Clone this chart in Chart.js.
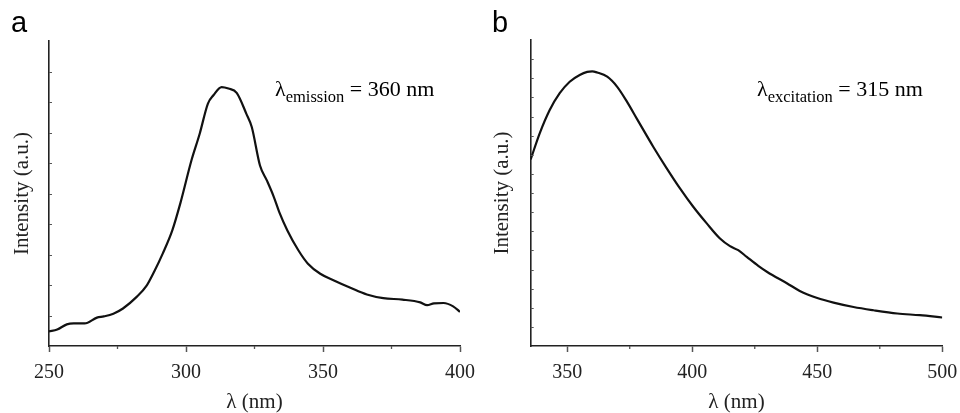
<!DOCTYPE html>
<html><head><meta charset="utf-8">
<script src="https://cdn.jsdelivr.net/npm/chart.js@4.4.0/dist/chart.umd.min.js"></script>
<style>
html,body{margin:0;padding:0;background:#fff;}
#wrap{position:relative;width:960px;height:413px;overflow:hidden;}
.panel{position:absolute;top:0;width:480px;height:413px;}
.lbl{position:absolute;font-family:"Liberation Sans",Arial,sans-serif;font-size:29px;line-height:29px;color:#000;}
.ann{position:absolute;font-family:"Liberation Serif","Times New Roman",serif;font-size:22px;line-height:22px;color:#000;white-space:nowrap;}
.ann span{font-size:16.5px;vertical-align:-6px;}
</style></head><body>
<div id="wrap">
  <div class="panel" style="left:0"><canvas id="ca"></canvas></div>
  <div class="panel" style="left:480px"><canvas id="cb"></canvas></div>
  <div class="lbl" style="left:11px;top:8px;">a</div>
  <div class="lbl" style="left:492px;top:8px;">b</div>
  <div class="ann" style="left:275px;top:78px;">λ<span>emission</span> = 360 nm</div>
  <div class="ann" style="left:757px;top:78px;">λ<span>excitation</span> = 315 nm</div>
</div>
<script>
// Panel a: emission spectrum (excitation at 315 nm)
const emissionWavelength = [250, 253, 256.5, 259, 263, 267.5, 270, 273.5, 277, 282, 285.5, 288.5, 291.5, 295, 298, 302, 305, 308, 310, 313, 315.5, 318.5, 322, 324, 327, 329.5, 332, 334, 337, 341, 344.5, 349, 354, 360, 366, 372, 379, 385.5, 388, 390.5, 394, 397.5, 400];
const emissionIntensity  = [0.48, 0.54, 0.71, 0.74, 0.74, 0.93, 0.97, 1.06, 1.23, 1.61, 1.96, 2.46, 3.03, 3.79, 4.70, 6.09, 6.96, 7.95, 8.22, 8.49, 8.44, 8.30, 7.62, 7.18, 5.92, 5.43, 4.90, 4.40, 3.79, 3.14, 2.70, 2.37, 2.15, 1.91, 1.69, 1.57, 1.52, 1.43, 1.34, 1.40, 1.41, 1.30, 1.12];
// Panel b: excitation spectrum (emission at 360 nm)
const excitationWavelength = [335.4, 339, 343, 347, 351, 355, 358, 360, 362, 366, 370, 374, 378, 384.4, 389.8, 395.1, 400.4, 405.8, 411.1, 415.1, 418.4, 421.8, 426.4, 430, 438, 443, 450, 456.5, 464.5, 472.5, 482, 491, 500];
const excitationIntensity  = [9.76, 11.12, 12.34, 13.22, 13.82, 14.17, 14.33, 14.36, 14.30, 14.08, 13.55, 12.75, 11.85, 10.42, 9.29, 8.24, 7.28, 6.41, 5.62, 5.22, 5.01, 4.66, 4.19, 3.87, 3.27, 2.88, 2.51, 2.27, 2.04, 1.87, 1.70, 1.61, 1.49];
// Axis settings
const xTitle = 'λ (nm)';
const yTitle = 'Intensity (a.u.)';
const xMajorStep = 50, xMinorStep = 25;

const serif = '"Liberation Serif","Times New Roman",serif';

const tickPlugin = {
  id: 'extraTicks',
  afterDraw(chart) {
    const ctx = chart.ctx, ca = chart.chartArea;
    const xs = chart.scales.x, ys = chart.scales.y;
    ctx.save();
    ctx.strokeStyle = '#555';
    ctx.lineWidth = 1.3;
    ctx.beginPath();
    const start = Math.ceil(xs.min / xMinorStep) * xMinorStep;
    for (let v = start; v <= xs.max; v += xMinorStep) {
      if (v % xMajorStep === 0) continue;
      const px = xs.getPixelForValue(v);
      ctx.moveTo(px, ca.bottom);
      ctx.lineTo(px, ca.bottom + 3);
    }
    ctx.stroke();
    ctx.lineWidth = 1;
    ctx.beginPath();
    for (let v = ys.min + 1; v < ys.max; v += 1) {
      const py = Math.round(ys.getPixelForValue(v)) + 0.5;
      ctx.moveTo(ca.left, py);
      ctx.lineTo(ca.left + 3, py);
    }
    ctx.stroke();
    ctx.restore();
  }
};

function makeChart(id, xs, ys, xMin, xMax, yMax, yWidth, pad) {
  const pts = xs.map((x, i) => ({x: x, y: ys[i]}));
  return new Chart(document.getElementById(id), {
    type: 'line',
    data: { datasets: [{ data: pts, borderColor: '#111', borderWidth: 2.2, pointRadius: 0, cubicInterpolationMode: 'monotone', fill: false }] },
    options: {
      responsive: true, maintainAspectRatio: false, animation: false,
      layout: { padding: pad },
      plugins: { legend: { display: false }, tooltip: { enabled: false } },
      scales: {
        x: {
          type: 'linear', min: xMin, max: xMax,
          ticks: { stepSize: xMajorStep, includeBounds: false, color: '#222', padding: 9, maxRotation: 0,
                   font: { family: serif, size: 20 } },
          grid: { drawOnChartArea: false, tickLength: 6, tickColor: '#555', tickWidth: 1.5 },
          border: { color: '#222', width: 1.6 },
          title: { display: true, text: xTitle, color: '#222', font: { family: serif, size: 21, lineHeight: 1 }, padding: { top: 0, bottom: 0 } },
          afterFit(s) { s.height = 67; s.paddingLeft = 0; s.paddingRight = 0; }
        },
        y: {
          min: 0, max: yMax,
          ticks: { display: false, stepSize: 1 },
          grid: { drawOnChartArea: false, drawTicks: false },
          border: { color: '#222', width: 1.6 },
          title: { display: true, text: yTitle, color: '#222', font: { family: serif, size: 21, lineHeight: 1.2 }, padding: { top: 10, bottom: 0 } },
          afterFit(s) { s.width = yWidth; s.paddingTop = 0; s.paddingBottom = 0; }
        }
      }
    },
    plugins: [tickPlugin]
  });
}

makeChart('ca', emissionWavelength, emissionIntensity, 250, 400, 10, 49, { left: 0, right: 20, top: 41, bottom: 0 });
makeChart('cb', excitationWavelength, excitationIntensity, 335.4, 500, 16, 50.7, { left: 0, right: 17.7, top: 40, bottom: 0 });
</script>
</body></html>
